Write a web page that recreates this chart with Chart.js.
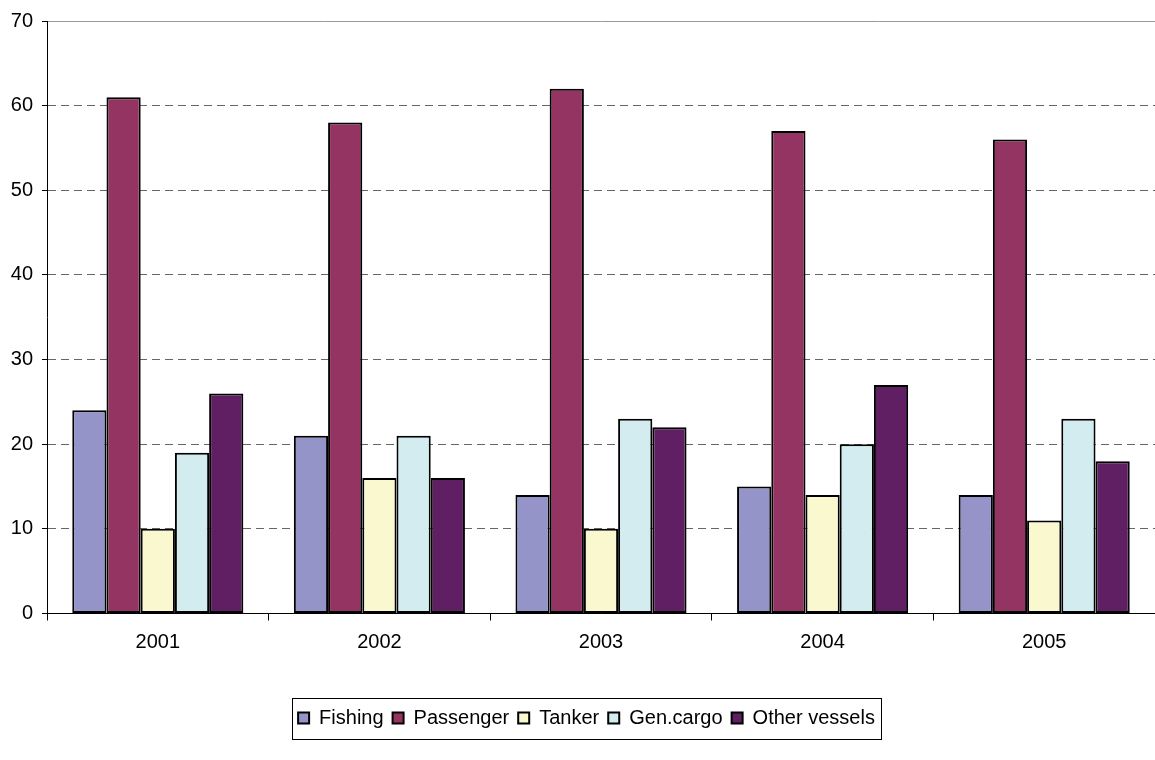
<!DOCTYPE html>
<html>
<head>
<meta charset="utf-8">
<script src="https://cdn.jsdelivr.net/npm/chart.js@4"></script>
<style>
  html, body { margin: 0; padding: 0; background: #fff; }
  #wrap { width: 1155px; height: 760px; }
</style>
</head>
<body>
<div id="wrap"><canvas id="vesselChart" width="1155" height="760"></canvas></div>
<script>
const years = ["2001", "2002", "2003", "2004", "2005"];
const fishing = [24, 21, 14, 15, 14];
const passenger = [61, 58, 62, 57, 56];
const tanker = [10, 16, 10, 14, 11];
const genCargo = [19, 21, 23, 20, 23];
const otherVessels = [26, 16, 22, 27, 18];
const yTicks = [0, 10, 20, 30, 40, 50, 60, 70];

const FONT = "'Liberation Sans', Arial, sans-serif";

// Box drawn round the legend, like the spreadsheet original
const legendFrame = {
  id: "legendFrame",
  afterLayout(chart) {
    // legend sits centred under the plot area rather than the canvas
    if (!chart.legend) return;
    chart.legend.left += 9;
    chart.legend.right += 9;
  },
  afterDraw(chart) {
    const boxes = chart.legend && chart.legend.legendHitBoxes;
    if (!boxes || !boxes.length) return;
    const left = Math.min(...boxes.map((b) => b.left)) - 6;
    const right = Math.max(...boxes.map((b) => b.left + b.width)) + 6;
    const cy = boxes[0].top + boxes[0].height / 2;
    const ctx = chart.ctx;
    ctx.save();
    ctx.strokeStyle = "#000";
    ctx.lineWidth = 1;
    ctx.strokeRect(Math.round(left) + 0.5, Math.round(cy - 20.5) + 0.5,
      Math.round(right - left), 41);
    ctx.restore();
  },
};

const makeSet = (label, data, color) => ({
  label,
  data,
  backgroundColor: color,
  borderColor: "#000",
  borderWidth: 2,
  borderSkipped: false,
  categoryPercentage: 0.772,
  barPercentage: 1,
});

new Chart(document.getElementById("vesselChart"), {
  type: "bar",
  data: {
    labels: years,
    datasets: [
      makeSet("Fishing", fishing, "#9494C8"),
      makeSet("Passenger", passenger, "#943462"),
      makeSet("Tanker", tanker, "#FAF8CE"),
      makeSet("Gen.cargo", genCargo, "#D2ECF0"),
      makeSet("Other vessels", otherVessels, "#601F62"),
    ],
  },
  options: {
    responsive: false,
    animation: false,
    layout: { padding: { top: 21, left: 0, right: 0, bottom: 22 } },
    plugins: {
      tooltip: { enabled: false },
      legend: {
        position: "bottom",
        labels: {
          font: { family: FONT, size: 20 },
          color: "#000",
          boxWidth: 11,
          boxHeight: 11,
          padding: 9,
        },
      },
    },
    scales: {
      x: {
        grid: {
          offset: true,
          drawOnChartArea: false,
          tickLength: 7,
          tickColor: "#000",
        },
        border: { color: "#000", width: 1 },
        ticks: { font: { family: FONT, size: 20 }, color: "#000", padding: 10 },
        afterFit: (scale) => { scale.height = 85.5; },
      },
      y: {
        min: 0,
        max: 70,
        afterBuildTicks: (scale) => { scale.ticks = yTicks.map((v) => ({ value: v })); },
        grid: {
          color: (ctx) => (ctx.tick && ctx.tick.value === 70 ? "#999" : "#666"),
          tickLength: 5,
          tickColor: "#000",
          tickBorderDash: [],
        },
        border: {
          color: "#000",
          width: 1,
          dash: (ctx) => (ctx.tick && ctx.tick.value === 70 ? [] : [8, 5]),
        },
        ticks: { font: { family: FONT, size: 20 }, color: "#000", padding: 9 },
        afterFit: (scale) => { scale.width = 47; },
      },
    },
  },
  plugins: [legendFrame],
});
</script>
</body>
</html>
